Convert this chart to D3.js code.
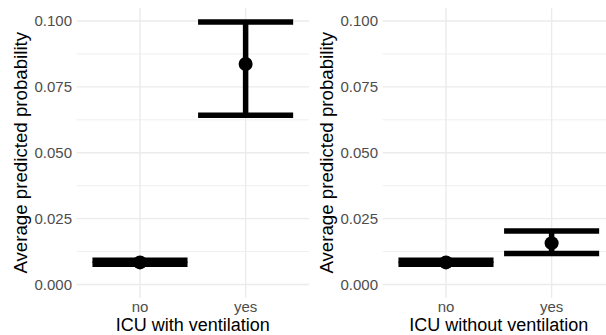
<!DOCTYPE html>
<html>
<head>
<meta charset="utf-8">
<script src="https://cdn.jsdelivr.net/npm/d3@7"></script>
<style>
  html, body { margin: 0; padding: 0; background: #fff; overflow: hidden; }
  svg { display: block; }
  text { font-family: "Liberation Sans", Arial, Helvetica, sans-serif; }
</style>
</head>
<body>
<svg id="chart" width="606" height="335"></svg>
<script>
// ---- data ----
const categories = ["no", "yes"];
const panelTitles = ["ICU with ventilation", "ICU without ventilation"];
const meanWith = [0.0084, 0.0837];
const lowWith = [0.0077, 0.0642];
const highWith = [0.0092, 0.0996];
const meanWithout = [0.0084, 0.0157];
const lowWithout = [0.0077, 0.0118];
const highWithout = [0.0092, 0.0203];
const yTicks = [0, 0.025, 0.05, 0.075, 0.1];
const yMinorTicks = [0.0125, 0.0375, 0.0625, 0.0875];
const yAxisTitle = "Average predicted probability";

const panels = [
  { title: panelTitles[0], mean: meanWith, low: lowWith, high: highWith },
  { title: panelTitles[1], mean: meanWithout, low: lowWithout, high: highWithout }
];

const svg = d3.select("#chart");
const panelW = 232.4;
const panelOffsets = [76.6, 382.6];
const panelTop = 7.8, panelBottom = 297.7;

const y = d3.scaleLinear().domain([-0.005, 0.105]).range([panelBottom, panelTop]);
const fmt = d3.format(".3f");

panels.forEach((p, i) => {
  const left = panelOffsets[i];
  const x = d3.scaleLinear().domain([0.4, 2.6]).range([left, left + panelW]);
  const xc = (c) => x(categories.indexOf(c) + 1);
  const g = svg.append("g");

  // minor grid
  g.selectAll(".minor").data(yMinorTicks).join("line")
    .attr("x1", left).attr("x2", left + panelW)
    .attr("y1", d => y(d)).attr("y2", d => y(d))
    .attr("stroke", "#ebebeb").attr("stroke-width", 0.8);
  // major grid
  g.selectAll(".major").data(yTicks).join("line")
    .attr("x1", left).attr("x2", left + panelW)
    .attr("y1", d => y(d)).attr("y2", d => y(d))
    .attr("stroke", "#ebebeb").attr("stroke-width", 1.4);
  g.selectAll(".vmajor").data(categories).join("line")
    .attr("x1", d => xc(d)).attr("x2", d => xc(d))
    .attr("y1", panelTop).attr("y2", panelBottom)
    .attr("stroke", "#ebebeb").attr("stroke-width", 1.4);

  // y tick labels
  g.selectAll(".ytl").data(yTicks).join("text")
    .attr("x", left - 4.6).attr("y", d => y(d)).attr("dy", "0.36em")
    .attr("text-anchor", "end").attr("font-size", 15).attr("fill", "#4d4d4d")
    .text(d => fmt(d));
  // x tick labels
  g.selectAll(".xtl").data(categories).join("text")
    .attr("x", d => xc(d)).attr("y", 311.5)
    .attr("text-anchor", "middle").attr("font-size", 15).attr("fill", "#4d4d4d")
    .text(d => d);
  // x title
  g.append("text")
    .attr("x", left + panelW / 2).attr("y", 331.2)
    .attr("text-anchor", "middle").attr("font-size", 18).attr("fill", "#000")
    .text(p.title);
  // y title
  g.append("text")
    .attr("transform", `translate(${left - 50},${(y(0) + y(0.1)) / 2}) rotate(-90)`)
    .attr("text-anchor", "middle").attr("font-size", 18.7).attr("fill", "#000")
    .text(yAxisTitle);

  // error bars
  const halfW = (x(1.45) - x(1));
  const rows = categories.map((c, k) => ({ c, m: p.mean[k], lo: p.low[k], hi: p.high[k] }));
  const eb = g.selectAll(".eb").data(rows).join("g");
  eb.append("line")
    .attr("x1", d => xc(d.c)).attr("x2", d => xc(d.c))
    .attr("y1", d => y(d.lo)).attr("y2", d => y(d.hi))
    .attr("stroke", "#000").attr("stroke-width", 5.5);
  eb.append("line")
    .attr("x1", d => xc(d.c) - halfW).attr("x2", d => xc(d.c) + halfW)
    .attr("y1", d => y(d.lo)).attr("y2", d => y(d.lo))
    .attr("stroke", "#000").attr("stroke-width", 5.5);
  eb.append("line")
    .attr("x1", d => xc(d.c) - halfW).attr("x2", d => xc(d.c) + halfW)
    .attr("y1", d => y(d.hi)).attr("y2", d => y(d.hi))
    .attr("stroke", "#000").attr("stroke-width", 5.5);
  eb.append("circle")
    .attr("cx", d => xc(d.c)).attr("cy", d => y(d.m)).attr("r", 7)
    .attr("fill", "#000");
});
</script>
</body>
</html>
